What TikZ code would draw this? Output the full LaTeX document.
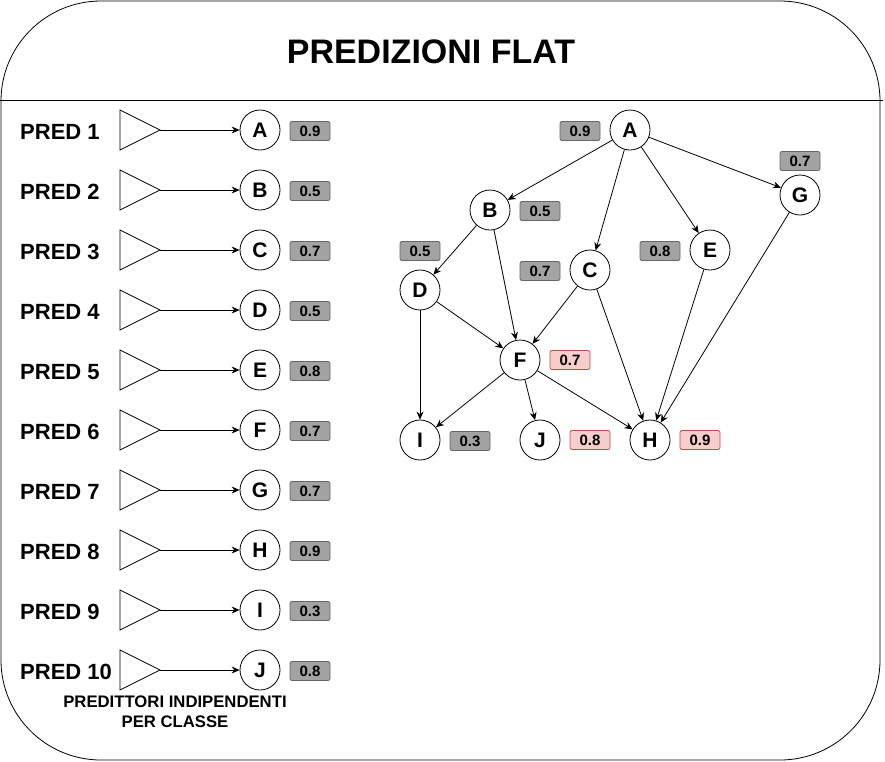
\documentclass[tikz,border=0pt]{standalone}
\usepackage{fontspec}
\setmainfont{Liberation Sans}
\usetikzlibrary{arrows.meta}
\definecolor{gfill}{HTML}{A3A3A3}
\definecolor{gline}{HTML}{666666}
\definecolor{rfill}{HTML}{F8CECC}
\definecolor{rline}{HTML}{B85450}
\begin{document}
\begin{tikzpicture}[x=1pt,y=-1pt,
  cnode/.style={circle, draw, line width=0.8pt, minimum size=40pt, inner sep=0pt, font=\fontsize{21}{24}\selectfont\bfseries},
  gval/.style={draw=gline, fill=gfill, line width=0.8pt, rounded corners=2pt, minimum width=40pt, minimum height=19pt, inner sep=0pt, font=\fontsize{15}{16}\selectfont\bfseries},
  rval/.style={gval, draw=rline, fill=rfill},
  predlab/.style={anchor=west, inner sep=0pt, font=\fontsize{22}{24}\selectfont\bfseries},
  arr/.style={-{Stealth[length=8pt,width=7pt]}, line width=0.8pt},
  tri/.style={draw, line width=0.8pt},
  frame/.style={draw, line width=0.8pt}
]
\useasboundingbox (0,0) rectangle (885,761);
\draw[frame, rounded corners=100pt] (1,1) rectangle (880,760);
\coordinate (sepL) at (0,100);
\coordinate (sepR) at (883,100);
\draw[frame] (sepL) -- (sepR);
\node[inner sep=0pt, font=\fontsize{34}{36}\selectfont\bfseries] (title) at (431,52) {PREDIZIONI FLAT};

% left column
\foreach \l/\v [count=\i] in {A/0.9,B/0.5,C/0.7,D/0.5,E/0.8,F/0.7,G/0.7,H/0.9,I/0.3,J/0.8}{
  \pgfmathsetmacro{\ry}{70+60*\i}
  \node[predlab] (pred\i) at (20,\ry+2) {PRED \i};
  \draw[tri] (120,\ry-20) -- (160,\ry) -- (120,\ry+20) -- cycle;
  \coordinate (t\i) at (160,\ry);
  \node[cnode] (l\i) at (260,\ry) {\l};
  \node[gval] (v\i) at (310,\ry+1) {\v};
  \draw[arr] (t\i) -- (l\i);
}
\node[align=center, inner sep=0pt, font=\fontsize{16.7}{20}\selectfont\bfseries] (cap) at (175,712) {PREDITTORI INDIPENDENTI\\PER CLASSE};

% graph
\node[cnode] (A) at (630,130) {A};
\node[cnode] (B) at (490,210) {B};
\node[cnode] (C) at (590,270) {C};
\node[cnode] (D) at (420,290) {D};
\node[cnode] (E) at (710,250) {E};
\node[cnode] (G) at (800,195) {G};
\node[cnode] (F) at (520,360) {F};
\node[cnode] (I) at (420,440) {I};
\node[cnode] (J) at (540,440) {J};
\node[cnode] (H) at (650,440) {H};

\node[gval] (vA) at (580,131) {0.9};
\node[gval] (vB) at (540,211) {0.5};
\node[gval] (vD) at (420,251) {0.5};
\node[gval] (vC) at (540,271) {0.7};
\node[gval] (vE) at (660,251) {0.8};
\node[gval] (vG) at (800,161) {0.7};
\node[rval] (vF) at (570,360) {0.7};
\node[gval] (vI) at (470,441) {0.3};
\node[rval] (vJ) at (590,440) {0.8};
\node[rval] (vH) at (700,440) {0.9};

\draw[arr] (A) -- (B);
\draw[arr] (A) -- (C);
\draw[arr] (A) -- (E);
\draw[arr] (A) -- (G);
\draw[arr] (B) -- (D);
\draw[arr] (B) -- (F);
\draw[arr] (D) -- (F);
\draw[arr] (D) -- (I);
\draw[arr] (C) -- (F);
\draw[arr] (C) -- (H);
\draw[arr] (E) -- (H);
\draw[arr] (G) -- (H);
\draw[arr] (F) -- (I);
\draw[arr] (F) -- (J);
\draw[arr] (F) -- (H);
\end{tikzpicture}
\end{document}
